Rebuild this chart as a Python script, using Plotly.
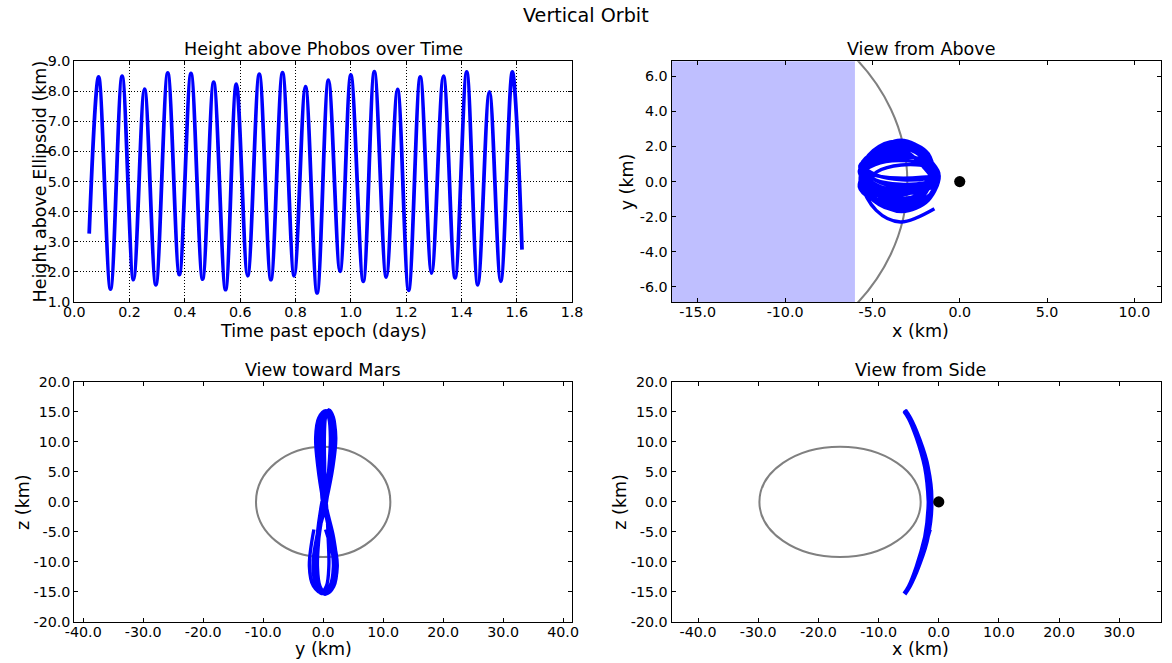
import plotly.graph_objects as go

# ---------------------------------------------------------------------------
# Height above the Phobos ellipsoid (turning points of the trace)
# ---------------------------------------------------------------------------
time_days = [0.054, 0.088, 0.131, 0.173, 0.214, 0.254, 0.295, 0.338, 0.380, 0.422,
             0.464, 0.504, 0.547, 0.586, 0.627, 0.669, 0.711, 0.753, 0.795, 0.836,
             0.878, 0.919, 0.961, 1.000, 1.045, 1.085, 1.128, 1.169, 1.209, 1.251,
             1.292, 1.335, 1.377, 1.419, 1.459, 1.501, 1.542, 1.584, 1.619]
height_km = [3.27, 8.48, 1.43, 8.50, 1.74, 8.07, 1.57, 8.61, 1.91, 8.59,
             1.76, 8.30, 1.41, 8.24, 1.87, 8.57, 1.74, 8.62, 1.87, 8.15,
             1.30, 8.37, 2.02, 8.54, 1.69, 8.65, 1.83, 8.06, 1.39, 8.48,
             1.96, 8.50, 1.80, 8.64, 1.57, 7.98, 1.69, 8.64, 2.74]

# ---------------------------------------------------------------------------
# Spacecraft trajectory in the Phobos-fixed frame (km), one row per loop
# ---------------------------------------------------------------------------
traj_x = [-1.70,
          -3.43, -4.80, -5.57, -4.80, -3.43, -1.95, -1.35,
          -2.25, -3.65, -4.95, -5.72, -4.95, -3.65, -2.25, -1.65,
          -1.80, -3.31, -4.73, -5.50, -4.73, -3.31, -1.80, -1.20,
          -2.15, -3.58, -4.90, -5.67, -4.90, -3.58, -2.15, -1.55,
          -2.05, -3.50, -4.85, -5.62, -4.85, -3.50, -2.05, -1.45,
          -2.30, -3.69, -4.98, -5.75, -4.98, -3.69, -2.30, -1.70,
          -1.85, -3.35, -4.75, -5.52, -4.75, -3.35, -1.85, -1.25,
          -2.00, -3.46, -4.83, -5.60, -4.83, -3.46, -2.00, -1.40,
          -2.20, -3.61, -4.93, -5.70, -4.93, -3.61, -2.20, -1.60,
          -1.90, -3.39, -4.78, -5.55, -4.78, -3.39, -1.90, -1.30,
          -2.10, -3.54, -4.88, -5.65, -4.88, -3.54, -2.10, -1.50,
          -1.80, -3.31, -4.73, -5.50, -4.73, -3.31, -1.80, -1.20,
          -2.25, -3.65, -4.95, -5.72, -4.95, -3.65, -2.25, -1.65,
          -1.95, -3.43, -4.80, -5.57, -4.80, -3.43, -1.95, -1.35,
          -2.15, -3.58, -4.90, -5.67, -4.90, -3.58, -2.15, -1.55,
          -1.85, -3.35, -4.75, -5.52, -4.75, -3.35, -1.85, -1.25,
          -2.30, -3.69, -4.98, -5.75, -4.98, -3.69, -2.30, -1.70,
          -2.05, -3.50, -4.85, -5.62, -4.85, -3.50, -2.05, -1.45,
          -1.90, -3.39, -4.78, -5.55, -4.78, -3.39, -1.45]
traj_y = [0.40,
          1.90, 1.45, 0.40, -0.97, -1.55, -1.03, 0.20,
          1.18, 1.60, 1.39, 0.90, -0.08, -0.50, -0.38, -0.10,
          1.58, 2.30, 1.67, 0.20, -1.13, -1.70, -1.06, 0.45,
          1.01, 1.25, 1.10, 0.75, 0.37, 0.20, 0.25, 0.35,
          1.61, 2.15, 1.45, -0.20, -1.04, -1.40, -1.04, -0.20,
          1.17, 1.75, 1.41, 0.60, -0.38, -0.80, -0.41, 0.50,
          0.82, 0.95, 0.55, -0.40, -1.00, -1.25, -0.86, 0.05,
          1.42, 2.00, 1.70, 1.00, 0.09, -0.30, -0.12, 0.30,
          1.67, 2.25, 1.61, 0.10, -1.09, -1.60, -0.96, 0.55,
          1.15, 1.40, 1.10, 0.40, -0.34, -0.65, -0.47, -0.05,
          1.42, 2.05, 1.53, 0.30, -0.68, -1.10, -0.70, 0.25,
          1.37, 1.85, 1.58, 0.95, 0.36, 0.10, 0.19, 0.40,
          1.73, 2.30, 1.76, 0.50, -0.52, -0.95, -0.71, -0.15,
          1.01, 1.50, 1.25, 0.65, 0.09, -0.15, -0.06, 0.15,
          1.41, 1.95, 1.34, -0.10, -1.08, -1.50, -0.90, 0.50,
          1.62, 2.10, 1.61, 0.45, -0.74, -1.25, -0.88, 0.00,
          1.19, 1.70, 1.10, -0.30, -1.04, -1.35, -0.84, 0.35,
          0.95, 1.20, 0.96, 0.40, -0.20, -0.45, -0.35, -0.10,
          1.62, 2.35, 1.62, -0.10, -1.64, -2.30, -1.55]
traj_z = [-4.6,
          -10.75, -14.0, -15.2, -14.0, -10.75, -5.8, 0.0,
          5.8, 10.8, 14.1, 15.3, 14.1, 10.8, 5.8, 0.0,
          -5.8, -10.7, -13.9, -15.0, -13.9, -10.7, -5.8, 0.0,
          5.8, 10.7, 14.0, 15.2, 14.0, 10.7, 5.8, 0.0,
          -5.9, -10.8, -14.1, -15.3, -14.1, -10.8, -5.9, 0.0,
          5.8, 10.7, 13.9, 15.1, 13.9, 10.7, 5.8, 0.0,
          -5.8, -10.7, -14.0, -15.2, -14.0, -10.7, -5.8, 0.0,
          5.8, 10.8, 14.1, 15.3, 14.1, 10.8, 5.8, 0.0,
          -5.9, -10.8, -14.1, -15.3, -14.1, -10.8, -5.9, 0.0,
          5.7, 10.6, 13.8, 15.0, 13.8, 10.6, 5.7, 0.0,
          -5.9, -10.9, -14.2, -15.4, -14.2, -10.9, -5.9, 0.0,
          5.8, 10.75, 14.0, 15.2, 14.0, 10.75, 5.8, 0.0,
          -5.9, -10.8, -14.1, -15.3, -14.1, -10.8, -5.9, 0.0,
          5.7, 10.6, 13.8, 15.0, 13.8, 10.6, 5.7, 0.0,
          -5.8, -10.75, -14.0, -15.2, -14.0, -10.75, -5.8, 0.0,
          5.8, 10.75, 14.0, 15.2, 14.0, 10.75, 5.8, 0.0,
          -5.9, -10.8, -14.1, -15.3, -14.1, -10.8, -5.9, 0.0,
          5.7, 10.7, 13.9, 15.1, 13.9, 10.7, 5.7, 0.0,
          -5.8, -10.75, -14.0, -15.2, -14.0, -10.75, -4.6]

# Target point (origin of the frame)
target_xyz = [0.0, 0.0, 0.0]

# Phobos ellipsoid: centre and semi-axes (km)
phobos_center = [-16.4, 0.0, 0.0]
phobos_axes = [13.4, 11.2, 9.2]

# Shaded region in the top view (x below this value)
shade_x_max = -6.0

# Tick values
t_ticks = [0.0, 0.2, 0.4, 0.6, 0.8, 1.0, 1.2, 1.4, 1.6, 1.8]
h_ticks = [1, 2, 3, 4, 5, 6, 7, 8, 9]
above_x_ticks = [-15, -10, -5, 0, 5, 10]
above_y_ticks = [-6, -4, -2, 0, 2, 4, 6]
wide_ticks_mars = [-40, -30, -20, -10, 0, 10, 20, 30, 40]
wide_ticks_side = [-40, -30, -20, -10, 0, 10, 20, 30]
z_ticks = [-20, -15, -10, -5, 0, 5, 10, 15, 20]


def fmt(vals):
    return ["%.1f" % v for v in vals]


# ---------------------------------------------------------------------------
# Layout geometry.  Positions below are given in screen pixels of the final
# 1172 x 663 view; the page shows the figure inside an 8 px body margin and
# the captured page area is 1188 x 679, so screen -> figure pixels is
# x * 1188/1172 - 8 and y * 679/663 - 8.
# ---------------------------------------------------------------------------
W, H = 1172, 663
OFF = 8
SX = (W + 2 * OFF) / W
SY = (H + 2 * OFF) / H
FS = (SX + SY) / 2            # size compensation for fonts / strokes

BLUE = "#0000ff"
GREY = "#808080"
FONT = "DejaVu Sans"


def fx(px):
    return px * SX - OFF


def fy(py):
    return py * SY - OFF


# Panel edges in screen pixels
left_a, right_a = 71.5, 572.0
left_b, right_b = 672.0, 1173.0
top_a, bot_a = 61.0, 302.0
top_b, bot_b = 382.0, 622.0
screen_right = W - OFF * W / (W + 2 * OFF)   # last screen column covered by the figure


def dom_x(a, b):
    return [fx(a) / W, min(fx(b) / W, 1.0)]


def dom_y(top, bot):
    return [1 - fy(bot) / H, 1 - fy(top) / H]


def clipped_range(r0, r1):
    # right-hand panels run past the figure edge: keep the same data scale
    per_px = (r1 - r0) / (right_b - left_b)
    return [r0, r0 + (screen_right - left_b) * per_px]


fig = go.Figure()

# Height over time
fig.add_trace(go.Scatter(x=time_days, y=height_km, mode="lines",
                         line=dict(color=BLUE, width=3.7 * FS, shape="spline", smoothing=1.0),
                         xaxis="x", yaxis="y", showlegend=False, hoverinfo="skip"))

# View from above (x, y)
fig.add_trace(go.Scatter(x=traj_x, y=traj_y, mode="lines",
                         line=dict(color=BLUE, width=3.4 * FS, shape="spline", smoothing=1.0),
                         xaxis="x2", yaxis="y2", showlegend=False, hoverinfo="skip"))
fig.add_trace(go.Scatter(x=[target_xyz[0]], y=[target_xyz[1]], mode="markers",
                         marker=dict(color="black", size=11 * FS),
                         xaxis="x2", yaxis="y2", showlegend=False, hoverinfo="skip"))

# View toward Mars (y, z)
fig.add_trace(go.Scatter(x=traj_y, y=traj_z, mode="lines",
                         line=dict(color=BLUE, width=3.3 * FS, shape="spline", smoothing=1.0),
                         xaxis="x3", yaxis="y3", showlegend=False, hoverinfo="skip"))

# View from side (x, z)
fig.add_trace(go.Scatter(x=traj_x, y=traj_z, mode="lines",
                         line=dict(color=BLUE, width=3.8 * FS, shape="spline", smoothing=1.0),
                         xaxis="x4", yaxis="y4", showlegend=False, hoverinfo="skip"))
fig.add_trace(go.Scatter(x=[target_xyz[0]], y=[target_xyz[2]], mode="markers",
                         marker=dict(color="black", size=11 * FS),
                         xaxis="x4", yaxis="y4", showlegend=False, hoverinfo="skip"))


def axis(domain, rng, ticks, anchor, grid=False, is_x=False):
    d = dict(domain=domain, range=rng, anchor=anchor,
             tickmode="array", tickvals=ticks, ticktext=fmt(ticks),
             ticks="inside", ticklen=4, tickwidth=1, tickcolor="black",
             showline=True, linecolor="black", linewidth=1, mirror="ticks",
             showgrid=grid, gridcolor="black", gridwidth=1, griddash="1px,2px",
             zeroline=False, tickfont=dict(family=FONT, size=14 * FS, color="black"),
             fixedrange=True)
    if is_x:
        d["ticklabelstandoff"] = -3
    return d


fig.update_layout(
    width=W, height=H, margin=dict(l=0, r=0, t=0, b=0),
    paper_bgcolor="white", plot_bgcolor="white",
    font=dict(family=FONT, color="black"),
    xaxis=axis(dom_x(left_a, right_a), [0, 1.8], t_ticks, "y", grid=True, is_x=True),
    yaxis=axis(dom_y(top_a, bot_a), [1, 9], h_ticks, "x", grid=True),
    xaxis2=axis(dom_x(left_b, right_b), clipped_range(-16.5, 12.03), above_x_ticks, "y2", is_x=True),
    yaxis2=axis(dom_y(top_a, bot_a), [-6.86, 6.86], above_y_ticks, "x2"),
    xaxis3=axis(dom_x(left_a, right_a), [-41.5, 41.5], wide_ticks_mars, "y3", is_x=True),
    yaxis3=axis(dom_y(top_b, bot_b), [-20, 20], z_ticks, "x3"),
    xaxis4=axis(dom_x(left_b, right_b), clipped_range(-44.4, 38.4), wide_ticks_side, "y4", is_x=True),
    yaxis4=axis(dom_y(top_b, bot_b), [-20, 20], z_ticks, "x4"),
)

cx, cy, cz = phobos_center
ax_, by_, cz_ = phobos_axes
shapes = [
    dict(type="rect", xref="x2", yref="y2 domain", x0=-16.5, x1=shade_x_max, y0=0, y1=1,
         fillcolor="#bfbfff", line=dict(width=0), layer="below"),
    dict(type="circle", xref="x2", yref="y2", x0=cx - ax_, x1=cx + ax_, y0=cy - by_, y1=cy + by_,
         line=dict(color=GREY, width=2 * FS), layer="between"),
    dict(type="circle", xref="x3", yref="y3", x0=cy - by_, x1=cy + by_, y0=cz - cz_, y1=cz + cz_,
         line=dict(color=GREY, width=2 * FS), layer="between"),
    dict(type="circle", xref="x4", yref="y4", x0=cx - ax_, x1=cx + ax_, y0=cz - cz_, y1=cz + cz_,
         line=dict(color=GREY, width=2 * FS), layer="between"),
]
fig.update_layout(shapes=shapes)


def ann(text, x, y, size, angle=0):
    return dict(text=text, x=fx(x) / W, y=1 - fy(y) / H, xref="paper", yref="paper",
                showarrow=False, xanchor="center", yanchor="middle", textangle=angle,
                font=dict(family=FONT, size=size * FS, color="black"))


mid_a = (left_a + right_a) / 2
mid_b = (left_b + right_b) / 2
annotations = [
    ann("Vertical Orbit", 586, 15, 18.8),
    ann("Height above Phobos over Time", mid_a, 49, 17.2),
    ann("View from Above", mid_b, 49, 17.2),
    ann("View toward Mars", mid_a, 370, 17.2),
    ann("View from Side", mid_b, 370, 17.2),
    ann("Time past epoch (days)", mid_a, 331, 17.2),
    ann("x (km)", mid_b, 331, 17.2),
    ann("y (km)", mid_a, 649, 17.2),
    ann("x (km)", mid_b, 649, 17.2),
    ann("Height above Ellipsoid (km)", 37, (top_a + bot_a) / 2, 17.2, -90),
    ann("y (km)", 627, (top_a + bot_a) / 2, 17.2, -90),
    ann("z (km)", 20, (top_b + bot_b) / 2, 17.2, -90),
    ann("z (km)", 620, (top_b + bot_b) / 2, 17.2, -90),
]
fig.update_layout(annotations=annotations)

fig.write_html("out.html")
